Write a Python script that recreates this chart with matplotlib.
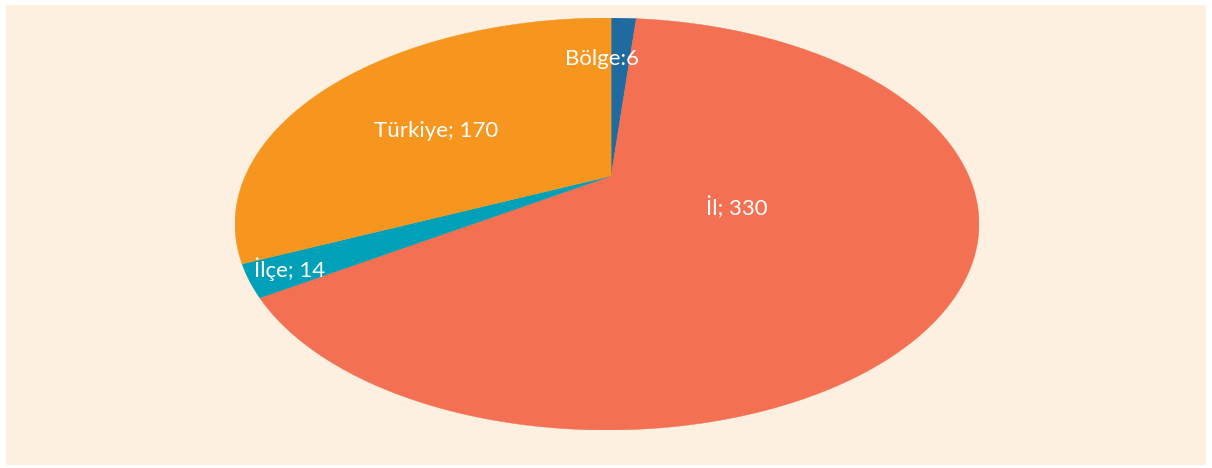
import numpy as np
import matplotlib
matplotlib.use("Agg")
import matplotlib.pyplot as plt
from matplotlib.patches import Rectangle, Polygon

# data
labels = ["Bölge", "İl", "İlçe", "Türkiye"]
values = [6, 330, 14, 170]
label_fmt = ["{}:{}", "{}; {}", "{}; {}", "{}; {}"]
colors = ["#1f6a9f", "#f37052", "#00a0b8", "#f7961e"]
# label positions in axes units (outline ellipse = unit circle)
label_pos = [(-0.013, 0.80), (0.349, 0.078), (-0.852, -0.218), (-0.458, 0.451)]

W, H = 1212, 468
fig = plt.figure(figsize=(W / 100, H / 100), dpi=100)
fig.patch.set_facecolor("white")
fig.patches.append(Rectangle((6 / W, 3 / H), 1200 / W, 460 / H,
                             transform=fig.transFigure, facecolor="#fef0e1",
                             edgecolor="none", zorder=-5))

# tilted-pie look: outline ellipse with the apex pushed up
cx, cy, rx, ry = 607, 224, 372, 206
ax = fig.add_axes([(cx - rx) / W, (H - cy - ry) / H, 2 * rx / W, 2 * ry / H])
ax.set_facecolor("none")
apex = np.array([0.011, 0.233])
tilt = 0.82


def rim_angle(theta):
    # where the ray from apex at pie angle theta meets the unit circle
    d = np.array([np.cos(theta), tilt * np.sin(theta)])
    b = 2 * apex.dot(d)
    c = apex.dot(apex) - 1
    t = (-b + np.sqrt(b * b - 4 * d.dot(d) * c)) / (2 * d.dot(d))
    p = apex + t * d
    return np.arctan2(p[1], p[0])


fracs = np.array(values) / sum(values)
start = np.pi / 2
for f, col in zip(fracs, colors):
    end = start - 2 * np.pi * f
    a0, a1 = rim_angle(start), rim_angle(end)
    while a1 > a0:
        a1 -= 2 * np.pi
    phi = np.linspace(a0, a1, 400)
    pts = np.vstack([apex, np.column_stack([np.cos(phi), np.sin(phi)])])
    ax.add_patch(Polygon(pts, closed=True, facecolor=col, edgecolor=col,
                         linewidth=0.3))
    start = end

ax.set_xlim(-1, 1)
ax.set_ylim(-1, 1)
ax.axis("off")

for lab, v, fmt, (x, y) in zip(labels, values, label_fmt, label_pos):
    ax.text(x, y, fmt.format(lab, v), ha="center", va="center", color="white",
            fontsize=16, family=["Lato", "DejaVu Sans"])

fig.savefig("out.png", dpi=100, facecolor=fig.get_facecolor())
